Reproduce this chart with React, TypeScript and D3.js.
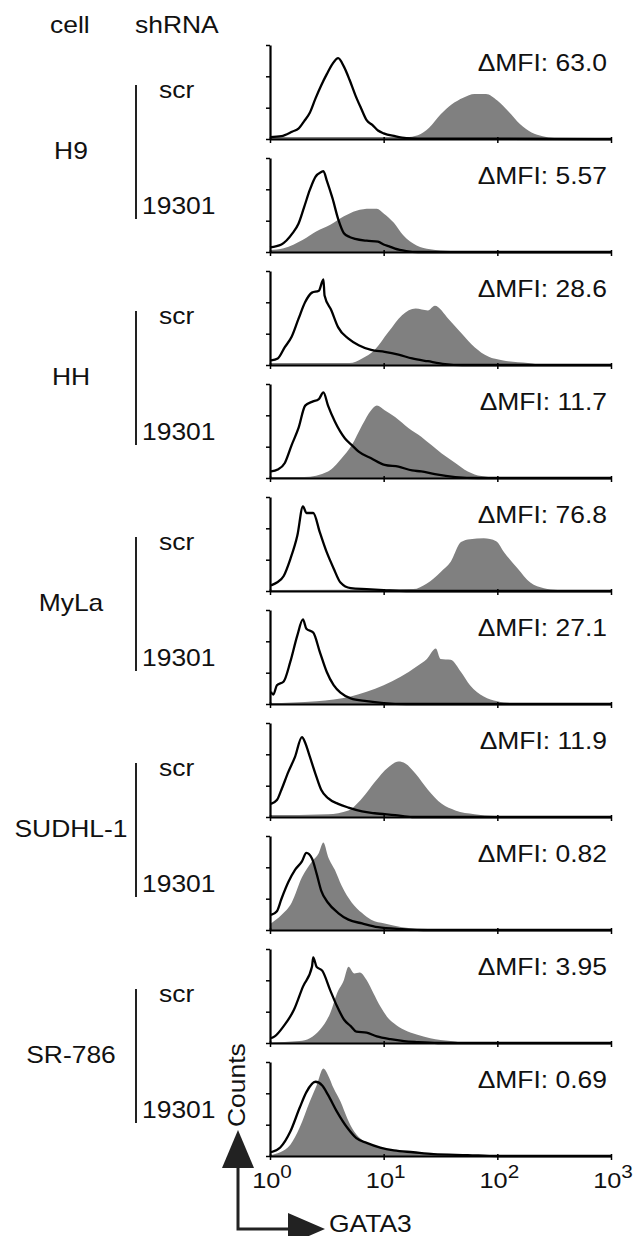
import React, { useRef, useEffect } from 'react';
import * as d3 from 'd3';

// labels
const cellLines = ['H9', 'HH', 'MyLa', 'SUDHL-1', 'SR-786'];
const shRNAs = ['scr', '19301'];
const deltaMFI = ['63.0', '5.57', '28.6', '11.7', '76.8', '27.1', '11.9', '0.82', '3.95', '0.69'];
const xTicks = [1, 10, 100, 1000];
const xTickExponents = ['0', '1', '2', '3'];
const yTicks = [0, 33.3, 66.7, 100];

// histograms: [GATA3 intensity, counts in % of panel height]
// open black line = control, grey fill = GATA3 stain
const h9ScrControl = [[1, 2], [1.26, 3], [1.58, 8], [1.78, 11], [2.0, 19], [2.24, 28], [2.51, 43], [2.82, 57], [3.16, 69], [3.55, 80], [3.98, 86], [4.47, 77], [5.01, 63], [5.62, 47], [6.31, 33], [7.08, 20], [7.94, 15], [8.91, 9], [10, 6], [12.6, 3], [15.8, 1], [20, 0.5], [1000, 0]];
const h9ScrGata3 = [[1, 2], [12.6, 2], [15.8, 2], [20, 4], [25.1, 12], [31.6, 26], [39.8, 37], [50.1, 44], [63.1, 48], [79.4, 48], [100, 41], [126, 29], [158, 16], [200, 7], [251, 3], [316, 1], [398, 0.5], [1000, 0]];

const h9KdControl = [[1, 5], [1.26, 8], [1.58, 20], [1.78, 30], [2.0, 48], [2.24, 66], [2.51, 80], [2.82, 85], [2.95, 86], [3.16, 76], [3.55, 57], [3.98, 35], [4.47, 20], [5.01, 16], [5.62, 14], [7.08, 12], [8.91, 11], [10, 8], [11.2, 6], [12.6, 3.5], [15.8, 1], [20, 0], [1000, 0]];
const h9KdGata3 = [[1, 2], [1.32, 4], [1.95, 13], [2.57, 22], [3.39, 29], [4.47, 38], [5.75, 44], [7.59, 46], [8.71, 46], [10, 41], [12.3, 31], [14.8, 18], [19.5, 7], [25.7, 3], [38.9, 1], [57.5, 0], [1000, 0]];

const hhScrControl = [[1.02, 5], [1.17, 7], [1.35, 19], [1.55, 30], [1.78, 49], [2.04, 67], [2.34, 77], [2.69, 79], [2.95, 91], [3.02, 74], [3.47, 58], [3.98, 40], [4.9, 28], [6.03, 21], [7.76, 16], [10.2, 14], [13.5, 11], [17.8, 7], [24.5, 4], [34.7, 1], [49, 0], [1000, 0]];
const hhScrGata3 = [[1, 2], [5.0, 2], [6.46, 7], [8.32, 16], [11.0, 35], [14.5, 53], [19.1, 60], [24.5, 58], [28.2, 63], [37.2, 49], [49, 33], [63.1, 19], [83.2, 9], [110, 5], [186, 2], [263, 0], [1000, 0]];

const hhKdControl = [[1.02, 7], [1.17, 9], [1.35, 16], [1.55, 35], [1.78, 53], [2.04, 77], [2.34, 81], [2.69, 84], [2.95, 91], [3.24, 77], [3.72, 60], [4.57, 42], [5.25, 35], [6.03, 28], [7.76, 21], [10.2, 14], [13.5, 12], [17.8, 8], [21.4, 7], [28.2, 4], [42.7, 1], [67.6, 0], [1000, 0]];
const hhKdGata3 = [[1, 1], [2.0, 1], [3.24, 7], [4.27, 21], [5.25, 35], [6.46, 56], [7.76, 72], [8.71, 77], [10.2, 72], [12.6, 65], [16.6, 53], [21.4, 44], [26.3, 35], [32.4, 26], [42.7, 16], [55, 7], [72.4, 2], [110, 0], [1000, 0]];

const mylaScrControl = [[1.02, 6], [1.15, 9], [1.32, 16], [1.51, 34], [1.74, 59], [1.95, 90], [2.09, 83], [2.4, 83], [2.75, 62], [3.16, 41], [3.63, 24], [4.17, 9], [5.13, 3], [7.08, 2], [10, 1], [15.8, 0], [1000, 0]];
const mylaScrGata3 = [[1, 1], [18.2, 2], [24.0, 8], [31.6, 20], [38.9, 31], [47.9, 52], [57.5, 55], [75.9, 56], [97.7, 53], [115, 41], [151, 24], [195, 9], [257, 3], [339, 1], [450, 0], [1000, 0]];

const mylaKdControl = [[1.02, 13], [1.07, 10], [1.15, 20], [1.32, 24], [1.51, 45], [1.74, 73], [1.95, 90], [2.09, 80], [2.4, 76], [2.75, 55], [3.16, 34], [3.63, 20], [4.17, 12], [5.13, 6], [7.08, 3], [10, 1], [15.8, 0], [1000, 0]];
const mylaKdGata3 = [[1, 1], [2.57, 3], [5.13, 8], [7.08, 13], [10, 20], [14.1, 29], [19.5, 40], [24.0, 48], [28.8, 59], [31.6, 48], [38.9, 47], [47.9, 34], [57.5, 20], [75.9, 8], [100, 3], [132, 1], [200, 0], [1000, 0]];

const sudhlScrControl = [[1.02, 14], [1.15, 18], [1.26, 29], [1.45, 48], [1.66, 64], [1.91, 85], [2.04, 79], [2.19, 68], [2.51, 46], [2.82, 29], [3.24, 20], [3.98, 14], [4.9, 10], [6.46, 6], [8.32, 4], [12.6, 2], [17.8, 0], [1000, 0]];
const sudhlScrGata3 = [[1, 2], [3.24, 3], [4.9, 7], [6.46, 20], [8.32, 37], [11.0, 53], [13.5, 59], [15.5, 57], [19.1, 46], [24.5, 29], [32.4, 14], [42.7, 7], [63.1, 3], [95.5, 1], [150, 0], [1000, 0]];

const sudhlKdControl = [[1.02, 16], [1.15, 20], [1.26, 33], [1.45, 51], [1.66, 64], [1.91, 73], [2.09, 82], [2.34, 76], [2.57, 60], [2.82, 42], [3.24, 29], [3.98, 18], [4.9, 11], [6.46, 7], [8.91, 3], [14.5, 1], [25, 0], [1000, 0]];
const sudhlKdGata3 = [[1.02, 7], [1.26, 16], [1.55, 29], [1.91, 56], [2.34, 73], [2.69, 82], [2.95, 93], [3.24, 78], [3.72, 64], [4.27, 47], [5.25, 29], [6.46, 18], [7.76, 11], [10.2, 7], [14.5, 3], [24.5, 1], [49, 0], [1000, 0]];

const srScrControl = [[1.02, 5], [1.1, 7], [1.32, 18], [1.62, 35], [1.95, 60], [2.34, 81], [2.4, 91], [2.57, 81], [2.88, 77], [3.39, 56], [3.89, 39], [4.47, 25], [5.13, 18], [5.75, 12], [7.08, 11], [8.71, 7], [11.5, 4], [15.1, 2], [19.5, 1], [30, 0], [1000, 0]];
const srScrGata3 = [[1, 0.5], [1.82, 2], [2.24, 5], [2.75, 14], [3.39, 32], [3.89, 53], [4.47, 67], [4.9, 81], [5.5, 74], [6.17, 75], [7.08, 67], [8.13, 53], [9.33, 39], [10.7, 28], [12.3, 21], [15.1, 14], [19.5, 9], [25.7, 5], [38.9, 2], [55, 0], [1000, 0]];

const srKdControl = [[1.02, 4], [1.23, 9], [1.51, 26], [1.82, 51], [2.09, 68], [2.51, 79], [2.88, 75], [3.24, 65], [3.89, 47], [4.79, 30], [5.75, 19], [7.08, 14], [9.33, 9], [12.3, 6], [18.2, 4], [27.5, 2], [55, 1], [100, 0], [1000, 0]];
const srKdGata3 = [[1, 1], [1.23, 4], [1.51, 12], [1.82, 30], [2.24, 58], [2.57, 75], [2.95, 93], [3.24, 86], [3.63, 72], [4.17, 58], [4.79, 40], [5.5, 26], [6.61, 16], [8.13, 11], [10.7, 7], [16.2, 4], [27.5, 2], [55, 0], [1000, 0]];

const panels = [
  { control: h9ScrControl, gata3: h9ScrGata3 },
  { control: h9KdControl, gata3: h9KdGata3 },
  { control: hhScrControl, gata3: hhScrGata3 },
  { control: hhKdControl, gata3: hhKdGata3 },
  { control: mylaScrControl, gata3: mylaScrGata3 },
  { control: mylaKdControl, gata3: mylaKdGata3 },
  { control: sudhlScrControl, gata3: sudhlScrGata3 },
  { control: sudhlKdControl, gata3: sudhlKdGata3 },
  { control: srScrControl, gata3: srScrGata3 },
  { control: srKdControl, gata3: srKdGata3 },
];

const width = 635;
const height = 1236;
const FONT = "'Liberation Sans', Arial, Helvetica, sans-serif";
const STRETCH = 1.15; // the figure's lettering is a bit wide

function App() {
  const svgRef = useRef(null);

  useEffect(() => {
    const svg = d3.select(svgRef.current);
    svg.selectAll('*').remove();

    const left = 270, right = 611;
    const firstBase = 139, step = 113, panelH = 94;

    const x = d3.scaleLog().domain([1, 1000]).range([left, right]);

    const label = (tx, ty, str, anchor = 'start', size = 23, rotate = 0) =>
      svg.append('g')
        .attr('transform', `translate(${tx},${ty}) rotate(${rotate}) scale(${STRETCH},1)`)
        .append('text')
        .attr('font-family', FONT)
        .attr('font-size', size)
        .attr('fill', '#111')
        .attr('text-anchor', anchor)
        .text(str);

    label(50, 33, 'cell');
    label(135, 33, 'shRNA');

    panels.forEach((p, i) => {
      const base = firstBase + i * step;
      const y = d3.scaleLinear().domain([0, 100]).range([base, base - panelH]);
      const g = svg.append('g');

      const area = d3.area()
        .x(d => x(d[0]))
        .y0(base)
        .y1(d => y(d[1]))
        .curve(d3.curveMonotoneX);
      g.append('path')
        .datum(p.gata3)
        .attr('fill', '#808080')
        .attr('d', area);

      const line = d3.line()
        .x(d => x(d[0]))
        .y(d => y(d[1]))
        .curve(d3.curveMonotoneX);
      g.append('path')
        .datum(p.control)
        .attr('fill', 'none')
        .attr('stroke', '#000')
        .attr('stroke-width', 2.3)
        .attr('stroke-linejoin', 'round')
        .attr('d', line);

      const yAxis = d3.axisLeft(y).tickValues(yTicks).tickSize(4).tickSizeOuter(0).tickFormat(() => '');
      const ya = g.append('g').attr('transform', `translate(${left},0)`).call(yAxis);
      ya.select('.domain').attr('stroke', '#000').attr('stroke-width', 2.2);
      ya.selectAll('.tick line').attr('stroke', '#000').attr('stroke-width', 1.5);

      const xAxis = d3.axisBottom(x).tickValues(xTicks).tickSize(4).tickSizeOuter(0).tickFormat(() => '');
      const xa = g.append('g').attr('transform', `translate(0,${base})`).call(xAxis);
      xa.select('.domain').attr('stroke', '#000').attr('stroke-width', 2.2);
      xa.selectAll('.tick line').attr('stroke', '#000').attr('stroke-width', 1.5).attr('y1', -2);

      label(607, base - 68, `\u0394MFI: ${deltaMFI[i]}`, 'end');

      if (i === panels.length - 1) {
        xTicks.forEach((t, k) => {
          const tt = svg.append('g')
            .attr('transform', `translate(${x(t) + 2},${base + 32}) scale(${STRETCH},1)`)
            .append('text')
            .attr('font-family', FONT)
            .attr('font-size', 22)
            .attr('fill', '#111')
            .attr('text-anchor', 'middle');
          tt.append('tspan').text('10');
          tt.append('tspan').attr('font-size', 18).attr('dy', -10).text(xTickExponents[k]);
        });
      }
    });

    // cell line / shRNA labels
    cellLines.forEach((c, k) => {
      const off = k * 2 * step;
      label(71, 159 + off, c, 'middle');
      svg.append('line')
        .attr('x1', 136).attr('x2', 136)
        .attr('y1', 85 + off).attr('y2', 219 + off)
        .attr('stroke', '#222').attr('stroke-width', 2);
      label(159, 98 + off, shRNAs[0]);
      label(142, 214 + off, shRNAs[1]);
    });

    // axis arrows
    const ax = 238, ay = 1229;
    svg.append('path')
      .attr('d', `M${ax},1166 L${ax},${ay} L290,${ay}`)
      .attr('fill', 'none').attr('stroke', '#222').attr('stroke-width', 3);
    svg.append('path')
      .attr('d', `M${ax},1130 L${ax - 16},1168 L${ax + 16},1168 Z`)
      .attr('fill', '#222');
    svg.append('path')
      .attr('d', `M325,${ay} L288,${ay - 16} L288,${ay + 16} Z`)
      .attr('fill', '#222');
    label(245, 1127, 'Counts', 'start', 23, -90);
    label(329, 1232, 'GATA3');
  }, []);

  return (
    <svg
      ref={svgRef}
      width={width}
      height={height}
      style={{ position: 'absolute', left: 0, top: 0, background: '#fff' }}
    />
  );
}

export default App;
